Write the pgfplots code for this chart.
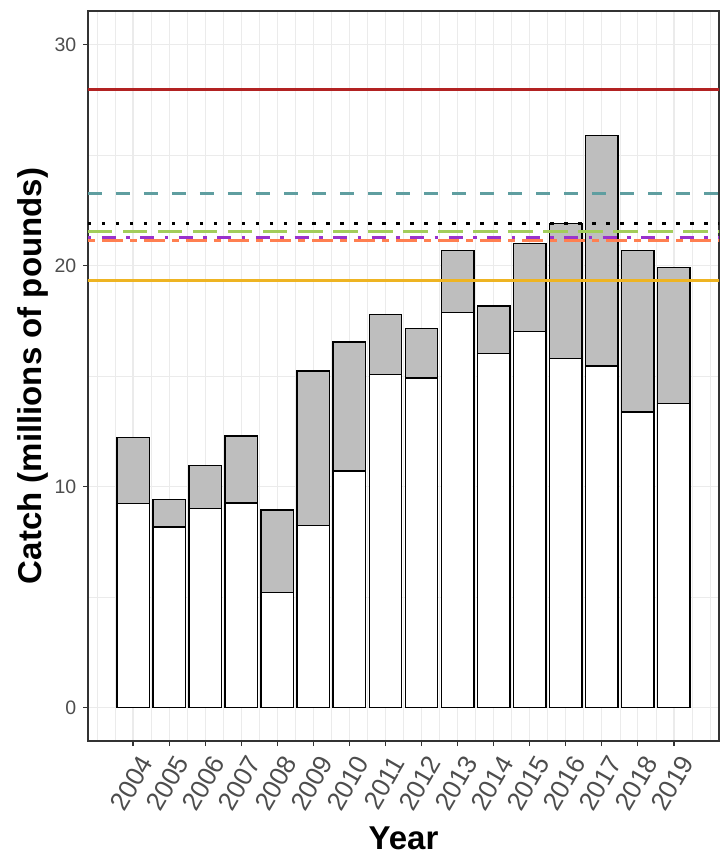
\documentclass[border=0pt]{standalone}
\usepackage{fontspec}
\setmainfont{Liberation Sans}
\usepackage{pgfplots}
\pgfplotsset{compat=1.18}
\definecolor{ctwenty}{HTML}{333333}
\definecolor{cthirty}{HTML}{4D4D4D}
\definecolor{gridc}{HTML}{EBEBEB}
\definecolor{barg}{HTML}{BEBEBE}
\definecolor{lred}{HTML}{B22222}
\definecolor{lteal}{HTML}{5F9EA0}
\definecolor{lgreen}{HTML}{A2CD5A}
\definecolor{lpurple}{HTML}{9A32CD}
\definecolor{lcoral}{HTML}{FF7F50}
\definecolor{lorange}{HTML}{EEB422}
\begin{document}
\begin{tikzpicture}
\begin{axis}[
  scale only axis, width=631pt, height=730pt,
  xmin=2002.75, xmax=2020.25, ymin=-1.52, ymax=31.51,
  axis line style={color=ctwenty, line width=1.3pt},
  xtick={2004,2005,2006,2007,2008,2009,2010,2011,2012,2013,2014,2015,2016,2017,2018,2019},
  xticklabels={2004,2005,2006,2007,2008,2009,2010,2011,2012,2013,2014,2015,2016,2017,2018,2019},
  ytick={0,10,20,30}, yticklabels={0,10,20,30},
  minor xtick={2003,2003.5,2004.5,2005.5,2006.5,2007.5,2008.5,2009.5,2010.5,2011.5,2012.5,2013.5,2014.5,2015.5,2016.5,2017.5,2018.5,2019.5,2020},
  minor ytick={5,15,25},
  grid=both,
  major grid style={color=gridc, line width=1.2pt},
  minor grid style={color=gridc, line width=0.6pt},
  tick align=outside, major tick length=5pt, minor tick length=0pt,
  tick style={color=ctwenty, line width=1.2pt},
  minor tick style={draw=none},
  xtick pos=bottom, ytick pos=left,
  xticklabel style={font=\fontsize{26}{26}\selectfont, color=cthirty, inner sep=0pt, xshift=13pt, yshift=-12pt, rotate=60, anchor=east},
  yticklabel style={font=\fontsize{19.5}{20}\selectfont, color=cthirty, inner sep=0pt, anchor=east, xshift=-6.5pt},
  xlabel={Year}, ylabel={Catch (millions of pounds)},
  xlabel style={font=\fontsize{33}{34}\selectfont\bfseries, at={(axis description cs:0.5,-0.1480)}, anchor=base},
  ylabel style={font=\fontsize{33}{34}\selectfont\bfseries, at={(axis description cs:-0.07338,0.5)}, anchor=base},
]
\addplot[ybar, bar width=0.9, bar shift=0pt, fill=barg, draw=black, line width=1.4pt] coordinates {
(2004,12.20) (2005,9.41) (2006,10.95) (2007,12.28) (2008,8.93) (2009,15.22) (2010,16.53) (2011,17.78)
(2012,17.15) (2013,20.68) (2014,18.16) (2015,20.98) (2016,21.90) (2017,25.88) (2018,20.68) (2019,19.90)};
\addplot[ybar, bar width=0.9, bar shift=0pt, fill=white, draw=black, line width=1.4pt] coordinates {
(2004,9.23) (2005,8.16) (2006,8.99) (2007,9.25) (2008,5.19) (2009,8.24) (2010,10.70) (2011,15.05)
(2012,14.91) (2013,17.86) (2014,16.00) (2015,17.00) (2016,15.78) (2017,15.44) (2018,13.36) (2019,13.74)};
\addplot[lred, line width=3.2pt] coordinates {(2002,27.95) (2021,27.95)};
\addplot[lteal, line width=3.2pt, dash pattern=on 14pt off 14pt] coordinates {(2002.75,23.25) (2021,23.25)};
\addplot[black, line width=3.2pt, dash pattern=on 3.5pt off 10.5pt] coordinates {(2002.75,21.88) (2021,21.88)};
\addplot[lgreen, line width=3.2pt, dash pattern=on 24.5pt off 10.5pt] coordinates {(2002.75,21.55) (2021,21.55)};
\addplot[lcoral, line width=3.2pt, dash pattern=on 7pt off 7pt on 21pt off 7pt] coordinates {(2002.75,21.14) (2021,21.14)};
\addplot[lpurple, line width=3.2pt, dash pattern=on 3.5pt off 10.5pt on 14pt off 10.5pt] coordinates {(2002.75,21.25) (2021,21.25)};
\addplot[lorange, line width=3.2pt] coordinates {(2002,19.32) (2021,19.32)};
\end{axis}
\path ([xshift=-88pt,yshift=-114pt]current axis.south west) rectangle ([xshift=1pt,yshift=11pt]current axis.north east);
\end{tikzpicture}
\end{document}
